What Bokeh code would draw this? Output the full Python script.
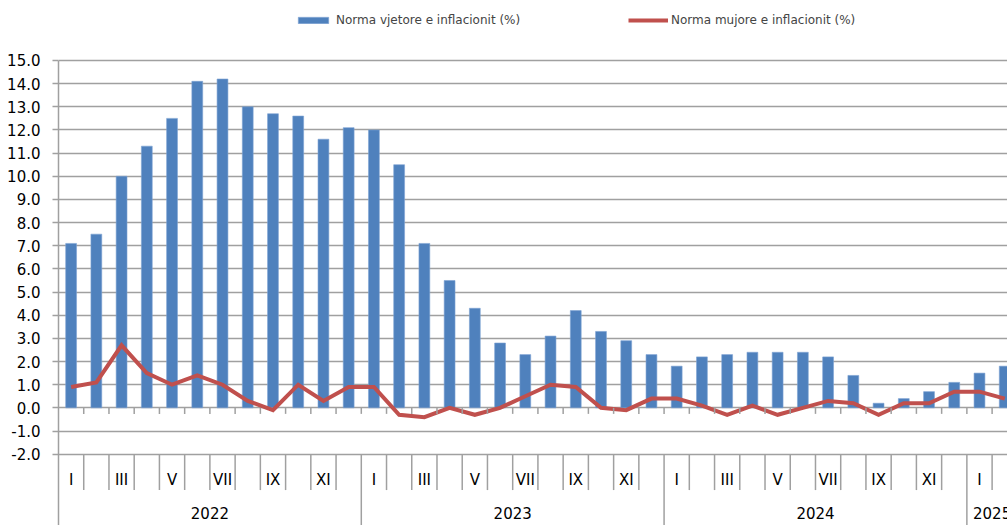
from bokeh.plotting import figure
from bokeh.models import ColumnDataSource, Range1d, FixedTicker, Legend, LegendItem, PrintfTickFormatter
from bokeh.core.properties import value
from bokeh.embed import file_html
from bokeh.resources import INLINE

# ---- data ----
years = ["2022", "2023", "2024", "2025"]
months_per_year = [12, 12, 12, 2]
month_names = ["I", "", "III", "", "V", "", "VII", "", "IX", "", "XI", ""]
yoy = [7.1, 7.5, 10.0, 11.3, 12.5, 14.1, 14.2, 13.0, 12.7, 12.6, 11.6, 12.1,
       12.0, 10.5, 7.1, 5.5, 4.3, 2.8, 2.3, 3.1, 4.2, 3.3, 2.9, 2.3,
       1.8, 2.2, 2.3, 2.4, 2.4, 2.4, 2.2, 1.4, 0.2, 0.4, 0.7, 1.1,
       1.5, 1.8]
mom = [0.9, 1.1, 2.7, 1.5, 1.0, 1.4, 1.0, 0.3, -0.1, 1.0, 0.3, 0.9,
       0.9, -0.3, -0.4, 0.0, -0.3, 0.0, 0.5, 1.0, 0.9, 0.0, -0.1, 0.4,
       0.4, 0.1, -0.3, 0.1, -0.3, 0.0, 0.3, 0.2, -0.3, 0.2, 0.2, 0.7,
       0.7, 0.4]
y_ticks = list(range(-2, 16))
label_yoy = "Norma vjetore e inflacionit (%)"
label_mom = "Norma mujore e inflacionit (%)"

FONT = "DejaVu Sans"
GRID = "#A0A0A0"
BLUE = "#4F81BD"
RED = "#C0504D"

n = len(yoy)
xs = list(range(n))
month_text = []
for yi, cnt in enumerate(months_per_year):
    for m in range(cnt):
        month_text.append(month_names[m])

src = ColumnDataSource(dict(x=xs, yoy=yoy, mom=mom, mtext=month_text))

Y_BOTTOM = -5.08
p = figure(width=1007, height=525, output_backend="svg", toolbar_location=None,
           x_range=Range1d(-0.5, 37.11), y_range=Range1d(Y_BOTTOM, 17.59),
           x_axis_location=None, min_border_left=58, min_border_right=0,
           min_border_top=0, min_border_bottom=0)
p.outline_line_color = None
p.background_fill_color = "white"
p.border_fill_color = "white"
p.xgrid.visible = False

yax = p.yaxis[0]
yax.ticker = FixedTicker(ticks=y_ticks)
yax.bounds = (Y_BOTTOM, 15)
yax.formatter = PrintfTickFormatter(format="%.1f")
yax.axis_line_color = GRID
yax.axis_line_width = 1.5
yax.major_tick_line_color = GRID
yax.major_tick_line_width = 1.5
yax.major_tick_out = 6
yax.major_tick_in = 0
yax.minor_tick_line_color = None
yax.major_label_text_font = FONT
yax.major_label_text_font_size = "15px"
yax.major_label_text_color = "black"
yax.major_label_standoff = 12

p.ygrid.grid_line_color = GRID
p.ygrid.grid_line_width = 1.5
p.ygrid.ticker = FixedTicker(ticks=y_ticks)

bars = p.vbar(x="x", top="yoy", bottom=0, width=0.43, source=src,
              fill_color=BLUE, line_color="#7EA3D3", line_width=0.6)
line = p.line(x="x", y="mom", source=src, line_color=RED, line_width=4,
              line_join="miter")

# category axis structure (ticks at zero line, separators, labels)
bounds = [k - 0.5 for k in range(1, n)]
year_bounds = []
acc = 0
for cnt in months_per_year[:-1]:
    acc += cnt
    year_bounds.append(acc - 0.5)

p.segment(x0=bounds, y0=[0] * len(bounds), x1=bounds, y1=[-0.26] * len(bounds),
          line_color=GRID, line_width=1.5)
mb = [b for b in bounds if b not in year_bounds]
p.segment(x0=mb, y0=[-2] * len(mb), x1=mb, y1=[-3.55] * len(mb),
          line_color=GRID, line_width=1.5)
p.segment(x0=year_bounds, y0=[-2] * len(year_bounds), x1=year_bounds,
          y1=[Y_BOTTOM - 1] * len(year_bounds), line_color=GRID, line_width=1.5)

p.text(x="x", y=-3.12, text="mtext", source=src, text_align="center",
       text_baseline="middle", text_font=value(FONT), text_font_size="15px",
       text_color="black")

year_centers = []
acc = 0
for cnt in months_per_year:
    year_centers.append(acc + (cnt - 1) / 2)
    acc += cnt
p.text(x=year_centers, y=[-4.56] * len(years), text=years, text_align="center",
       text_baseline="middle", text_font=value(FONT), text_font_size="15px",
       text_color="black")

leg1 = Legend(items=[LegendItem(label=label_yoy, renderers=[bars])],
              location=(236, 497), glyph_width=38, glyph_height=8,
              label_height=16, label_standoff=4, margin=0, padding=0,
              border_line_color=None, background_fill_alpha=0,
              label_text_font=FONT, label_text_font_size="12px")
leg2 = Legend(items=[LegendItem(label=label_mom, renderers=[line])],
              location=(570, 497), glyph_width=40, glyph_height=8,
              label_height=16, label_standoff=3, margin=0, padding=0,
              border_line_color=None, background_fill_alpha=0,
              label_text_font=FONT, label_text_font_size="12px")
p.add_layout(leg1)
p.add_layout(leg2)

open("out.html", "w").write(file_html(p, INLINE))
